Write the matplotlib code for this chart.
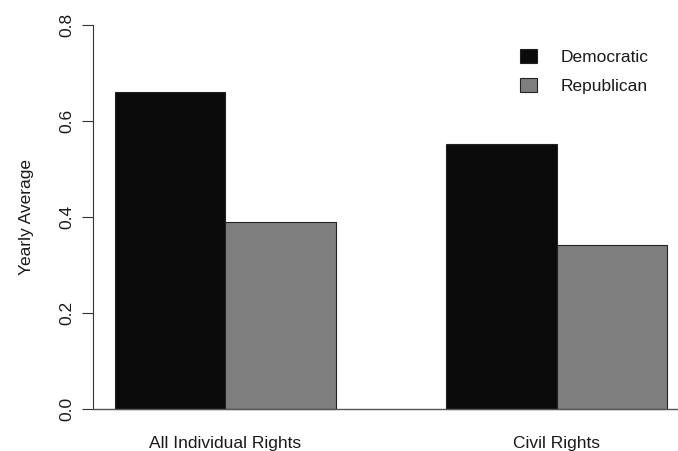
import matplotlib.pyplot as plt

# values
categories = ['All Individual Rights', 'Civil Rights']
series_names = ['Democratic', 'Republican']
democratic = [0.661, 0.553]
republican = [0.390, 0.342]
y_ticks = [0.0, 0.2, 0.4, 0.6, 0.8]
y_tick_labels = ['0.0', '0.2', '0.4', '0.6', '0.8']

DEM_COLOR = '#0b0b0b'
REP_COLOR = '#7f7f7f'
TEXT_COLOR = '#1a1a1a'
FONT_SIZE = 12.5

plt.rcParams['font.family'] = ['Liberation Sans', 'DejaVu Sans']

fig = plt.figure(figsize=(6.78, 4.51), dpi=100)
ax = fig.add_axes([0.1366, 0.0583, 0.8634, 0.9204])

# R-style barplot: bars of width 1, groups separated by one bar width
group_left = [1 + 3 * i for i in range(len(categories))]
dem_bars = ax.bar(group_left, democratic, width=1.0, align='edge',
                  color=DEM_COLOR, edgecolor='#222222', linewidth=0.8,
                  label=series_names[0])
rep_bars = ax.bar([g + 1 for g in group_left], republican, width=1.0,
                  align='edge', color=REP_COLOR, edgecolor='#222222',
                  linewidth=0.8, label=series_names[1])

ax.axhline(0, color='#555555', lw=1.0, zorder=3)

ax.set_xlim(0.8, 6.098)
ax.set_ylim(-0.032, 0.832)

ax.set_yticks(y_ticks)
ax.set_yticklabels(y_tick_labels, rotation=90, va='center',
                   fontsize=FONT_SIZE, color=TEXT_COLOR)
ax.tick_params(axis='y', length=7.6, width=0.8, color='#333333', pad=5.8)

ax.set_xticks([g + 1 for g in group_left])
ax.set_xticklabels(categories, fontsize=FONT_SIZE, color=TEXT_COLOR)
ax.tick_params(axis='x', length=0, pad=7.8)

ax.set_ylabel('Yearly Average', fontsize=FONT_SIZE, color=TEXT_COLOR)
ax.yaxis.set_label_coords(-0.100, 0.5)

for side in ('top', 'right', 'bottom'):
    ax.spines[side].set_visible(False)
ax.spines['left'].set_bounds(0, 0.8)
ax.spines['left'].set_color('#333333')
ax.spines['left'].set_linewidth(0.8)

ax.legend(handles=[dem_bars, rep_bars], loc='upper left',
          bbox_to_anchor=(520 / 678, 1 - 49 / 451),
          bbox_transform=fig.transFigure, frameon=False,
          fontsize=FONT_SIZE, borderpad=0, borderaxespad=0,
          handlelength=1.0, handleheight=0.86, handletextpad=1.35,
          labelspacing=0.74, labelcolor=TEXT_COLOR)

fig.savefig('out.png', dpi=100)
